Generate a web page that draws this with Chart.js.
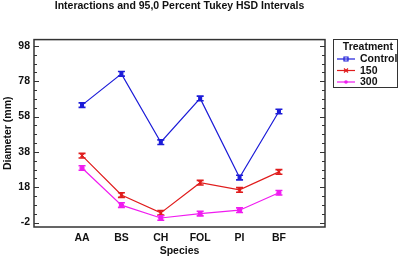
<!DOCTYPE html>
<html lang="en">
<head>
<meta charset="UTF-8">
<title>Interactions and 95,0 Percent Tukey HSD Intervals</title>
<style>
    html, body { margin: 0; padding: 0; background: #fff; }
    #wrap { width: 400px; height: 258px; }
</style>
</head>
<body>
<div id="wrap"><canvas id="tukeyChart" width="400" height="258"></canvas></div>

<script src="https://cdn.jsdelivr.net/npm/chart.js"></script>
<script>
    // values
    const species = ['AA', 'BS', 'CH', 'FOL', 'PI', 'BF'];
    const controlMeans = [64.5, 82.2, 43.5, 68.3, 23.5, 60.9];
    const t150Means = [35.9, 13.6, 3.5, 20.6, 16.5, 26.7];
    const t300Means = [28.9, 7.9, 0.6, 3.1, 5.0, 14.9];
    const controlHalf = [1.3, 1.3, 1.3, 1.3, 1.3, 1.3];
    const t150Half = [1.3, 1.3, 1.3, 1.3, 1.3, 1.3];
    const t300Half = [1.3, 1.3, 1.3, 1.3, 1.3, 1.3];
    const yLabels = [-2, 18, 38, 58, 78, 98];

    const FONT = 'Liberation Sans, Arial, sans-serif';

    function toPoints(vals) {
        return vals.map((v, i) => ({ x: i, y: v }));
    }

    // Tukey interval bars drawn through the scales
    const intervalBars = {
        id: 'intervalBars',
        afterDatasetsDraw(chart) {
            const ctx = chart.ctx;
            const ys = chart.scales.y;
            chart.data.datasets.forEach((ds, di) => {
                const meta = chart.getDatasetMeta(di);
                ctx.save();
                ctx.strokeStyle = ds.borderColor;
                ctx.lineWidth = 1.6;
                meta.data.forEach((pt, i) => {
                    const v = ds.data[i].y;
                    const h = ds.halfWidths[i];
                    const top = ys.getPixelForValue(v + h);
                    const bot = ys.getPixelForValue(v - h);
                    ctx.beginPath();
                    ctx.moveTo(pt.x, top); ctx.lineTo(pt.x, bot);
                    ctx.moveTo(pt.x - 3.5, top); ctx.lineTo(pt.x + 3.5, top);
                    ctx.moveTo(pt.x - 3.5, bot); ctx.lineTo(pt.x + 3.5, bot);
                    ctx.stroke();
                });
                ctx.restore();
            });
        }
    };

    // box around the plot and inward ticks on both sides
    const frame = {
        id: 'frame',
        afterDraw(chart) {
            const ctx = chart.ctx;
            const a = chart.chartArea;
            const ys = chart.scales.y;
            ctx.save();
            ctx.strokeStyle = '#333';
            ctx.lineWidth = 1.5;
            ctx.strokeRect(a.left, a.top, a.right - a.left, a.bottom - a.top);
            ctx.lineWidth = 1;
            ctx.beginPath();
            ys.ticks.forEach(t => {
                const y = Math.round(ys.getPixelForValue(t.value)) + 0.5;
                const len = yLabels.includes(t.value) ? 5 : 3;
                ctx.moveTo(a.left, y); ctx.lineTo(a.left + len, y);
                ctx.moveTo(a.right, y); ctx.lineTo(a.right - len, y);
            });
            ctx.stroke();
            ctx.restore();
        }
    };

    // legend box on the right
    const sideLegend = {
        id: 'sideLegend',
        afterDraw(chart) {
            const ctx = chart.ctx;
            const x0 = 333, y0 = 39, w = 64, h = 48;
            ctx.save();
            ctx.strokeStyle = '#333';
            ctx.lineWidth = 1;
            ctx.strokeRect(x0 + 0.5, y0 + 0.5, w, h);
            ctx.fillStyle = '#111';
            ctx.font = 'bold 10.5px ' + FONT;
            ctx.textAlign = 'right';
            ctx.textBaseline = 'middle';
            ctx.fillText('Treatment', 393, 47);
            ctx.textAlign = 'left';
            chart.data.datasets.forEach((ds, i) => {
                const y = 59 + i * 11.5;
                ctx.strokeStyle = ds.borderColor;
                ctx.lineWidth = 1.2;
                ctx.beginPath();
                ctx.moveTo(337, y); ctx.lineTo(355, y);
                ctx.stroke();
                ctx.beginPath();
                if (ds.pointStyle === 'circle') {
                    ctx.arc(346, y, 1.8, 0, Math.PI * 2);
                    ctx.fillStyle = ds.borderColor;
                    ctx.fill();
                } else if (ds.pointStyle === 'crossRot') {
                    ctx.moveTo(344, y - 2); ctx.lineTo(348, y + 2);
                    ctx.moveTo(344, y + 2); ctx.lineTo(348, y - 2);
                    ctx.stroke();
                } else {
                    ctx.rect(344, y - 2, 4, 4);
                    ctx.stroke();
                }
                ctx.fillStyle = '#111';
                ctx.fillText(ds.label, 360, y + 0.5);
            });
            ctx.restore();
        }
    };

    const ctx = document.getElementById('tukeyChart').getContext('2d');
    const chart = new Chart(ctx, {
        type: 'line',
        data: {
            datasets: [
                {
                    label: 'Control',
                    data: toPoints(controlMeans),
                    halfWidths: controlHalf,
                    borderColor: '#1c1cd8',
                    backgroundColor: '#1c1cd8',
                    pointStyle: 'rect',
                    pointRadius: 2,
                    borderWidth: 1.2
                },
                {
                    label: '150',
                    data: toPoints(t150Means),
                    halfWidths: t150Half,
                    borderColor: '#e01c1c',
                    backgroundColor: '#e01c1c',
                    pointStyle: 'crossRot',
                    pointRadius: 2.5,
                    borderWidth: 1.2
                },
                {
                    label: '300',
                    data: toPoints(t300Means),
                    halfWidths: t300Half,
                    borderColor: '#f01cf0',
                    backgroundColor: '#f01cf0',
                    pointStyle: 'circle',
                    pointRadius: 2,
                    borderWidth: 1.2
                }
            ]
        },
        options: {
            responsive: false,
            animation: false,
            layout: { padding: { left: 0, right: 75, top: 0, bottom: 0 } },
            scales: {
                x: {
                    type: 'linear',
                    min: -1.22,
                    max: 6.17,
                    grid: { display: false, drawTicks: false },
                    border: { display: false },
                    afterBuildTicks: s => { s.ticks = species.map((_, i) => ({ value: i })); },
                    afterFit: s => { s.height = 31; },
                    ticks: {
                        padding: 5,
                        color: '#111',
                        font: { family: FONT, size: 10.5, weight: 'bold' },
                        callback: v => species[v]
                    },
                    title: {
                        display: true,
                        text: 'Species',
                        color: '#111',
                        padding: { top: 0, bottom: 1 },
                        font: { family: FONT, size: 10.5, weight: 'bold' }
                    }
                },
                y: {
                    min: -4.5,
                    max: 101.6,
                    grid: { display: false, drawTicks: false },
                    border: { display: false },
                    afterBuildTicks: s => {
                        const t = [];
                        for (let v = -2; v <= 98; v += 5) t.push({ value: v });
                        s.ticks = t;
                    },
                    afterFit: s => { s.width = 34; },
                    ticks: {
                        padding: 4,
                        autoSkip: false,
                        color: '#111',
                        font: { family: FONT, size: 10.5, weight: 'bold' },
                        callback: v => yLabels.includes(v) ? String(v) : ''
                    },
                    title: {
                        display: true,
                        text: 'Diameter (mm)',
                        color: '#111',
                        padding: { top: 2, bottom: 0 },
                        font: { family: FONT, size: 10.5, weight: 'bold' }
                    }
                }
            },
            plugins: {
                legend: { display: false },
                tooltip: { enabled: false },
                title: {
                    display: true,
                    fullSize: false,
                    text: 'Interactions and 95,0 Percent Tukey HSD Intervals',
                    color: '#111',
                    padding: { top: 0, bottom: 27 },
                    font: { family: FONT, size: 10.5, weight: 'bold' }
                }
            }
        },
        plugins: [intervalBars, frame, sideLegend]
    });
</script>
</body>
</html>
